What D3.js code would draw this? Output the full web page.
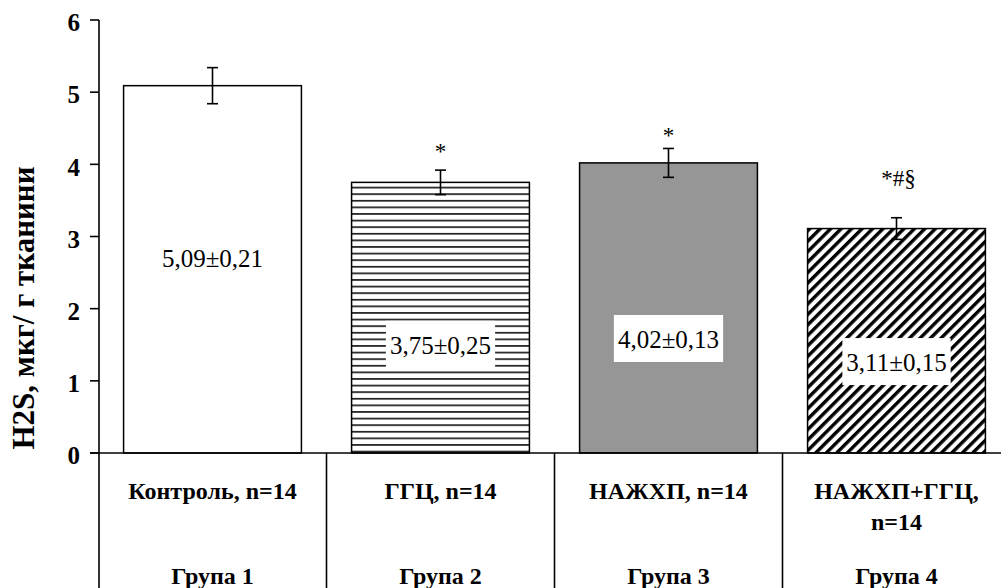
<!DOCTYPE html>
<html>
<head>
<meta charset="utf-8">
<script src="https://cdn.jsdelivr.net/npm/d3@7"></script>
<style>
  body { margin: 0; background: #fff; }
  svg { display: block; }
  text { font-family: "Liberation Serif", "Times New Roman", serif; fill: #000; }
</style>
</head>
<body>
<svg id="chart" width="1001" height="588" font-family="Liberation Serif, serif"></svg>
<script>
// Hydrogen sulfide content by group
const categories = ["Група 1", "Група 2", "Група 3", "Група 4"];
const conditionLines = [["Контроль, n=14"], ["ГГЦ, n=14"], ["НАЖХП, n=14"], ["НАЖХП+ГГЦ,", "n=14"]];
const means = [5.09, 3.75, 4.02, 3.11];
const errors = [0.25, 0.17, 0.20, 0.15];
const valueLabels = ["5,09±0,21", "3,75±0,25", "4,02±0,13", "3,11±0,15"];
const significance = ["", "*", "*", "*#§"];
const yTicks = [0, 1, 2, 3, 4, 5, 6];
// anchor levels (in axis units) for the in-bar labels and significance marks
const labelAt = [2.70, 1.50, 1.58, 1.26];
const markAt = [0, 4.08, 4.30, 3.70];
const fills = ["#ffffff", "url(#hlines)", "#969696", "url(#diag)"];

const svg = d3.select("#chart");
const axisX = 99, y0 = 453, yTop = 20, H = 588;

const y = d3.scaleLinear().domain([0, 6]).range([y0, yTop]);
const x = d3.scaleBand().domain(categories).range([98.5, 98.5 + 4 * 228])
  .paddingInner(0.22).paddingOuter(0.11);

// fill patterns
const defs = svg.append("defs");
const hp = defs.append("pattern").attr("id", "hlines").attr("patternUnits", "userSpaceOnUse")
  .attr("width", 10).attr("height", 6.6);
hp.append("rect").attr("width", 10).attr("height", 6.6).attr("fill", "#fff");
hp.append("rect").attr("y", 2).attr("width", 10).attr("height", 1.5).attr("fill", "#000");
const dp = defs.append("pattern").attr("id", "diag").attr("patternUnits", "userSpaceOnUse")
  .attr("width", 7.4).attr("height", 10).attr("patternTransform", "rotate(45)");
dp.append("rect").attr("width", 7.4).attr("height", 10).attr("fill", "#fff");
dp.append("rect").attr("width", 3.4).attr("height", 10).attr("fill", "#000");

// bars
svg.append("g").selectAll("rect").data(means).join("rect")
  .attr("x", (d, i) => x(categories[i]))
  .attr("y", d => y(d))
  .attr("width", x.bandwidth())
  .attr("height", d => y(0) - y(d))
  .attr("fill", (d, i) => fills[i])
  .attr("stroke", "#000").attr("stroke-width", 1.5);

// error bars
const eb = svg.append("g").attr("stroke", "#000").attr("stroke-width", 1.6);
means.forEach((m, i) => {
  const cx = x(categories[i]) + x.bandwidth() / 2;
  const lo = y(m - errors[i]), hi = y(m + errors[i]);
  eb.append("line").attr("x1", cx).attr("x2", cx).attr("y1", lo).attr("y2", hi);
  eb.append("line").attr("x1", cx - 5.5).attr("x2", cx + 5.5).attr("y1", lo).attr("y2", lo);
  eb.append("line").attr("x1", cx - 5.5).attr("x2", cx + 5.5).attr("y1", hi).attr("y2", hi);
});

// value labels in white boxes
const lab = svg.append("g");
valueLabels.forEach((t, i) => {
  const cx = x(categories[i]) + x.bandwidth() / 2;
  const cy = y(labelAt[i]);
  const g = lab.append("g");
  const txt = g.append("text").attr("x", cx).attr("y", cy).attr("dy", "0.35em")
    .attr("text-anchor", "middle").attr("font-size", 25).text(t);
  const w = txt.node().getComputedTextLength();
  g.insert("rect", "text").attr("x", cx - w / 2 - 4).attr("y", cy - 24)
    .attr("width", w + 8).attr("height", 47).attr("fill", "#fff");
});

// significance marks
significance.forEach((t, i) => {
  if (!t) return;
  svg.append("text")
    .attr("x", x(categories[i]) + x.bandwidth() / 2 + (t.length > 1 ? 2 : 0))
    .attr("y", y(markAt[i]))
    .attr("text-anchor", "middle").attr("font-size", 23).text(t);
});

// y axis with ticks
svg.append("line").attr("x1", axisX).attr("x2", axisX).attr("y1", yTop).attr("y2", H)
  .attr("stroke", "#000").attr("stroke-width", 1.6);
const ty = svg.append("g");
yTicks.forEach(v => {
  ty.append("line").attr("x1", axisX - 9).attr("x2", axisX).attr("y1", y(v)).attr("y2", y(v))
    .attr("stroke", "#000").attr("stroke-width", 1.6);
  ty.append("text").attr("x", 80).attr("y", y(v)).attr("dy", "0.45em")
    .attr("text-anchor", "end").attr("font-size", 25).attr("font-weight", "bold").text(v);
});

// y axis title
svg.append("text")
  .attr("transform", `translate(34,308) rotate(-90)`)
  .attr("text-anchor", "middle").attr("font-size", 31).attr("font-weight", "bold")
  .text("H2S, мкг/ г тканини");

// category table beneath the axis
const tbl = svg.append("g").attr("stroke", "#000").attr("stroke-width", 1.6);
tbl.append("line").attr("x1", 90).attr("x2", 1001).attr("y1", y0).attr("y2", y0);
categories.forEach((c, i) => {
  const left = x(c) - x.step() * x.paddingOuter();
  if (i > 0) tbl.append("line").attr("x1", left).attr("x2", left).attr("y1", y0).attr("y2", H);
});

categories.forEach((c, i) => {
  const cx = x(c) + x.bandwidth() / 2;
  conditionLines[i].forEach((ln, j) => {
    svg.append("text").attr("x", cx).attr("y", 499 + j * 31)
      .attr("text-anchor", "middle").attr("font-size", 24).attr("font-weight", "bold").text(ln);
  });
  svg.append("text").attr("x", cx).attr("y", 584)
    .attr("text-anchor", "middle").attr("font-size", 24).attr("font-weight", "bold").text(c);
});
</script>
</body>
</html>
